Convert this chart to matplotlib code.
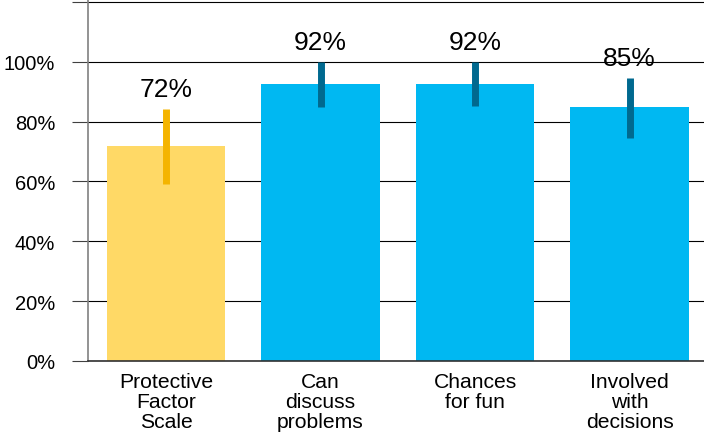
import matplotlib
matplotlib.use("Agg")
import matplotlib.pyplot as plt
from matplotlib.ticker import FixedLocator, FixedFormatter

categories = ["Protective\nFactor\nScale", "Can\ndiscuss\nproblems", "Chances\nfor fun", "Involved\nwith\ndecisions"]
values = [72, 92.6, 92.7, 84.8]
err_low = [59.1, 84.8, 85.2, 74.5]
err_high = [84.2, 100, 100, 94.5]
labels = ["72%", "92%", "92%", "85%"]
bar_colors = ["#FFD966", "#00B8F2", "#00B8F2", "#00B8F2"]
err_colors = ["#F4B400", "#00698F", "#00698F", "#00698F"]
yticks = [0, 20, 40, 60, 80, 100, 120]
ytick_labels = ["0%", "20%", "40%", "60%", "80%", "100%", ""]

plt.rcParams['font.family'] = ['Liberation Sans', 'DejaVu Sans']

W, H = 704, 435
fig = plt.figure(figsize=(W / 100, H / 100), dpi=100)
ax = fig.add_axes([88 / W, 73 / H, (W - 88) / W, 362 / H])

x = list(range(len(categories)))
ax.bar(x, values, width=0.765, color=bar_colors, zorder=2)
for xi, lo, hi, c in zip(x, err_low, err_high, err_colors):
    ax.vlines(xi, lo, hi, colors=c, linewidth=5.0, zorder=3)
for xi, hi, lab in zip(x, err_high, labels):
    ax.annotate(lab, (xi, hi), xytext=(0, 9.5), textcoords="offset points",
                ha="center", va="baseline", fontsize=19, color="black")

ax.set_xlim(-0.505, 3.482)
ax.set_ylim(0, 121)
ax.yaxis.set_major_locator(FixedLocator(yticks))
ax.yaxis.set_major_formatter(FixedFormatter(ytick_labels))
ax.grid(axis="y", color="black", linewidth=0.8, zorder=1)
ax.set_axisbelow(True)

ax.set_xticks(x)
ax.set_xticklabels(categories, fontsize=15.2, linespacing=1.05)
ax.tick_params(axis="x", length=0, pad=8)
ax.tick_params(axis="y", length=11.5, width=0.8, color="#404040", pad=12, labelsize=14.5)

for s in ["right"]:
    ax.spines[s].set_visible(False)
ax.spines["left"].set_color("#808080")
ax.spines["left"].set_linewidth(1.2)
ax.spines["top"].set_color("#808080")
ax.spines["top"].set_linewidth(1.2)
ax.spines["bottom"].set_color("#303030")
ax.spines["bottom"].set_linewidth(1.2)

fig.savefig("out.png", dpi=100)
